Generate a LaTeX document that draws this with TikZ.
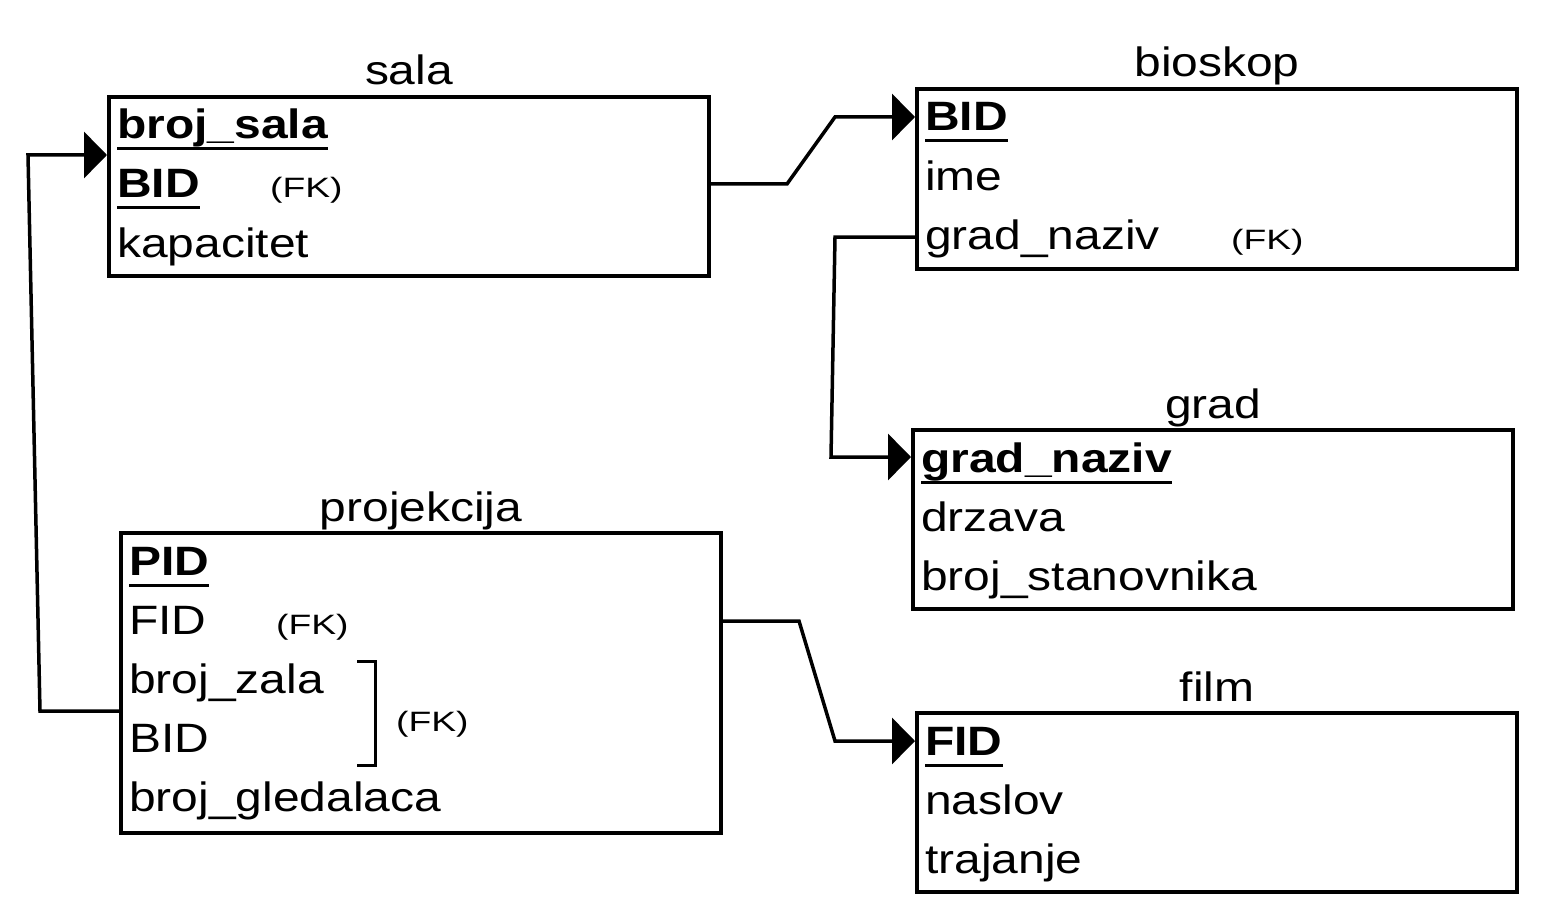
\documentclass[tikz,border=0pt]{standalone}
\usepackage{fontspec}
\setmainfont[FakeStretch=1.17]{Liberation Sans}
\newfontfamily\fkfont[FakeStretch=1.33]{Liberation Sans}
\usetikzlibrary{positioning,arrows.meta}

\begin{document}
\begin{tikzpicture}[x=1pt, y=-1pt,
  tbl/.style  ={draw, line width=4pt, minimum width=600pt, inner sep=0pt},
  ttl/.style  ={font=\fontsize{41}{48}\selectfont, inner sep=0pt},
  row/.style  ={font=\fontsize{41}{48}\selectfont, inner sep=0pt, anchor=base west},
  key/.style  ={row, font=\fontsize{41}{48}\selectfont\bfseries},
  fk/.style   ={font=\fkfont\fontsize{28}{32}\selectfont, inner sep=0pt, anchor=base west},
  uline/.style={line width=3pt},
  conn/.style ={line width=3.5pt, -{Triangle[length=23pt,width=46pt]}}]

\useasboundingbox (0,0) rectangle (1544,920);

% sala
\node[tbl, minimum height=179pt] (sala) at (409,186.5) {};
\node[ttl, above=10pt of sala.north, anchor=base] (salaT) {sala};
\node[key] (sala1) at ([xshift=10pt,yshift=-44pt]sala.north west) {broj\_sala};
\node[key] (sala2) at ([yshift=-59pt]sala1.base west) {BID};
\node[row] (sala3) at ([yshift=-59pt]sala2.base west) {kapacitet};
\node[fk]  (salaF) at ([xshift=153pt]sala2.base west) {(FK)};

% bioskop
\node[tbl, minimum height=180pt] (bio) at (1217,179) {};
\node[ttl, above=10pt of bio.north, anchor=base] (bioT) {bioskop};
\node[key] (bio1) at ([xshift=10pt,yshift=-44pt]bio.north west) {BID};
\node[row] (bio2) at ([yshift=-59pt]bio1.base west) {ime};
\node[row] (bio3) at ([yshift=-59pt]bio2.base west) {grad\_naziv};
\node[fk]  (bioF) at ([xshift=306pt]bio3.base west) {(FK)};

% grad
\node[tbl, minimum height=179pt] (grad) at (1213,519.5) {};
\node[ttl, above=10pt of grad.north, anchor=base] (gradT) {grad};
\node[key] (grad1) at ([xshift=10pt,yshift=-44pt]grad.north west) {grad\_naziv};
\node[row] (grad2) at ([yshift=-59pt]grad1.base west) {drzava};
\node[row] (grad3) at ([yshift=-59pt]grad2.base west) {broj\_stanovnika};

% projekcija
\node[tbl, minimum height=300pt] (proj) at (421,683) {};
\node[ttl, above=10pt of proj.north, anchor=base] (projT) {projekcija};
\node[key] (proj1) at ([xshift=10pt,yshift=-44pt]proj.north west) {PID};
\node[row] (proj2) at ([yshift=-59pt]proj1.base west) {FID};
\node[row] (proj3) at ([yshift=-59pt]proj2.base west) {broj\_zala};
\node[row] (proj4) at ([yshift=-59pt]proj3.base west) {BID};
\node[row] (proj5) at ([yshift=-59pt]proj4.base west) {broj\_gledalaca};
\node[fk]  (projF1) at ([xshift=147pt]proj2.base west) {(FK)};
\node[fk]  (projF2) at (396,731) {(FK)};
\draw[uline] (357,661) -| (375,765) -- (357,765);

% film
\node[tbl, minimum height=179pt] (film) at (1217,802.5) {};
\node[ttl, above=10pt of film.north, anchor=base] (filmT) {film};
\node[key] (film1) at ([xshift=10pt,yshift=-44pt]film.north west) {FID};
\node[row] (film2) at ([yshift=-59pt]film1.base west) {naslov};
\node[row] (film3) at ([yshift=-59pt]film2.base west) {trajanje};

% primary keys underlined
\foreach \k in {sala1,sala2,bio1,grad1,proj1,film1}
  \draw[uline] ([yshift=-10pt]\k.base west) -- ([yshift=-10pt]\k.base east);

% foreign key links
\coordinate (k1a) at (40,711);
\coordinate (k1b) at (28,155);
\draw[conn] (proj.west |- k1a) -- (k1a) -- (k1b) -- (sala.west |- k1b);

\coordinate (k2a) at (787,184);
\coordinate (k2b) at (835,117);
\draw[conn] (sala.east |- k2a) -- (k2a) -- (k2b) -- (bio.west |- k2b);

\coordinate (k3a) at (835,237);
\coordinate (k3b) at (831,457);
\draw[conn] (bio.west |- k3a) -- (k3a) -- (k3b) -- (grad.west |- k3b);

\coordinate (k4a) at (799,621);
\coordinate (k4b) at (835,741);
\draw[conn] (proj.east |- k4a) -- (k4a) -- (k4b) -- (film.west |- k4b);
\end{tikzpicture}
\end{document}
